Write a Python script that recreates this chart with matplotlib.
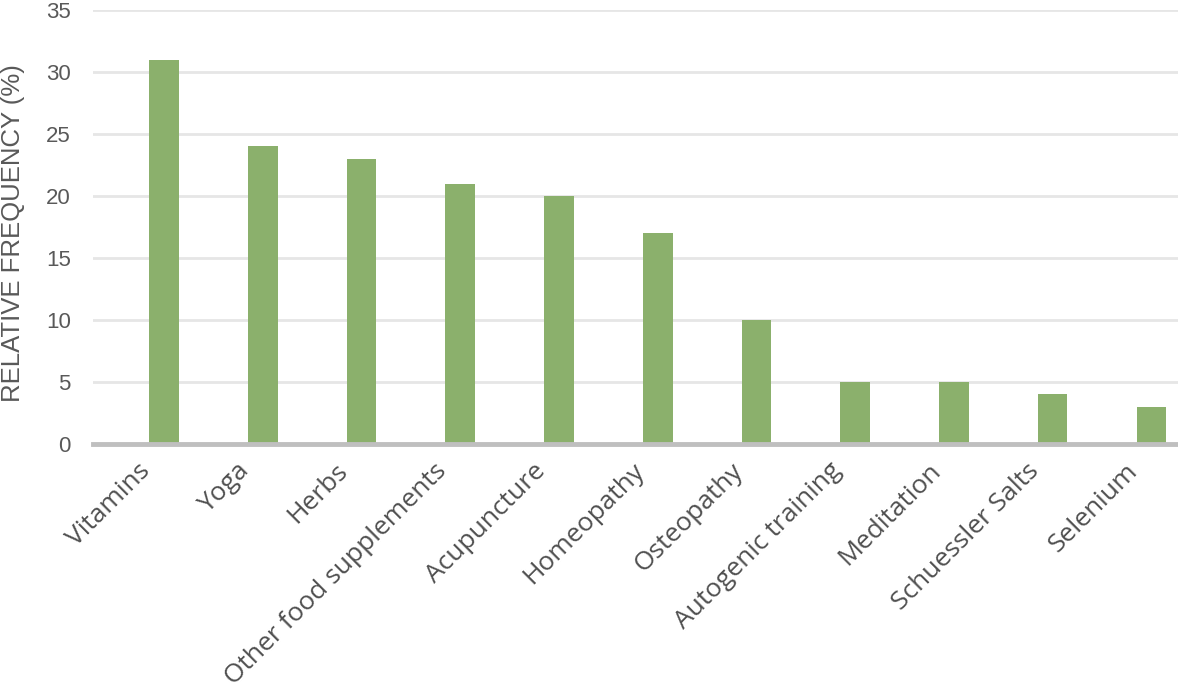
import numpy as np
import matplotlib.pyplot as plt
import matplotlib.transforms as mtransforms

# Datos
categories = ['Vitamins', 'Yoga', 'Herbs', 'Other food supplements', 'Acupuncture',
              'Homeopathy', 'Osteopathy', 'Autogenic training', 'Meditation',
              'Schuessler Salts', 'Selenium']
values = [31, 24, 23, 21, 20, 17, 10, 5, 5, 4, 3]
yticks = [0, 5, 10, 15, 20, 25, 30, 35]

fig = plt.figure(figsize=(11.78, 6.9), dpi=100)
ax = fig.add_axes([93 / 1178, 1 - 444 / 690, 1 - 93 / 1178, (444 - 10) / 690])

x = np.arange(len(categories))
ax.bar(x, values, width=0.30, color='#8BB06C', zorder=3)

ax.set_ylim(0, 35)
ax.set_xlim(-0.72, 10.27)
ax.set_yticks(yticks)
ax.yaxis.grid(True, color='#E6E6E6', linewidth=2, zorder=0)
ax.tick_params(axis='y', length=0, labelsize=16, labelcolor='#595959', pad=16)
ax.tick_params(axis='x', length=0, pad=6)
for lab in ax.get_yticklabels():
    lab.set_fontfamily('Liberation Sans')

ax.set_xticks(x)
ax.set_xticklabels(categories, rotation=45, ha='right', rotation_mode='anchor',
                   fontsize=19, color='#505050', family='Open Sans')
# desplazar etiquetas a la izquierda y abajo
offset = mtransforms.ScaledTranslation(-0.26, -0.06, fig.dpi_scale_trans)
for lab in ax.get_xticklabels():
    lab.set_transform(lab.get_transform() + offset)

for s in ['top', 'right', 'left']:
    ax.spines[s].set_visible(False)
ax.spines['bottom'].set_color('#BFBFBF')
ax.spines['bottom'].set_linewidth(3.5)
ax.spines['bottom'].set_zorder(4)

fig.text(13 / 1178, 1 - 233 / 690, 'RELATIVE FREQUENCY (%)', rotation=90, ha='center', va='center',
         fontsize=18.5, color='#595959', family='Liberation Sans')

fig.savefig('out.png', dpi=100)
